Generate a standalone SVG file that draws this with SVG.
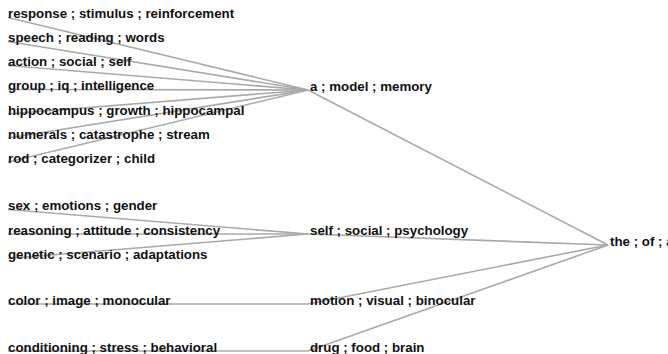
<svg xmlns="http://www.w3.org/2000/svg" width="668" height="354" viewBox="0 0 668 354">
<style>
.link{fill:none;stroke:#aaa;stroke-width:1.6}
text{font-family:"Liberation Sans",Arial,sans-serif;font-size:13.3px;font-weight:bold;fill:#111}
</style>
<rect width="668" height="354" fill="#fff"/>
<g id="links">
<path class="link" d="M8,17.5L308,90"/>
<path class="link" d="M8,41.5L308,90"/>
<path class="link" d="M8,65.5L308,90"/>
<path class="link" d="M8,89.5L308,90"/>
<path class="link" d="M8,114L308,90"/>
<path class="link" d="M8,138L308,90"/>
<path class="link" d="M8,162L308,90"/>
<path class="link" d="M8,209.5L308,234"/>
<path class="link" d="M8,234L308,234"/>
<path class="link" d="M8,258.5L308,234"/>
<path class="link" d="M8,304L308,304"/>
<path class="link" d="M8,351L308,351"/>
<path class="link" d="M308,90L608,245"/>
<path class="link" d="M308,234L608,245"/>
<path class="link" d="M308,304L608,245"/>
<path class="link" d="M308,351L608,245"/>
</g>
<g id="n1"><text x="8" y="18">response ; stimulus ; reinforcement</text></g>
<g id="n2"><text x="8" y="42">speech ; reading ; words</text></g>
<g id="n3"><text x="8" y="66">action ; social ; self</text></g>
<g id="n4"><text x="8" y="90">group ; iq ; intelligence</text></g>
<g id="n5"><text x="8" y="114.5">hippocampus ; growth ; hippocampal</text></g>
<g id="n6"><text x="8" y="138.5">numerals ; catastrophe ; stream</text></g>
<g id="n7"><text x="8" y="162.5">rod ; categorizer ; child</text></g>
<g id="n8"><text x="8" y="210">sex ; emotions ; gender</text></g>
<g id="n9"><text x="8" y="234.5">reasoning ; attitude ; consistency</text></g>
<g id="n10"><text x="8" y="259">genetic ; scenario ; adaptations</text></g>
<g id="n11"><text x="8" y="304.5">color ; image ; monocular</text></g>
<g id="n12"><text x="8" y="351.5">conditioning ; stress ; behavioral</text></g>
<g id="p1"><text x="310" y="90.5">a ; model ; memory</text></g>
<g id="p2"><text x="310" y="234.5">self ; social ; psychology</text></g>
<g id="p3"><text x="310" y="304.5">motion ; visual ; binocular</text></g>
<g id="p4"><text x="310" y="351.5">drug ; food ; brain</text></g>
<g id="root"><text x="610" y="245.5">the ; of ; a</text></g>
</svg>
